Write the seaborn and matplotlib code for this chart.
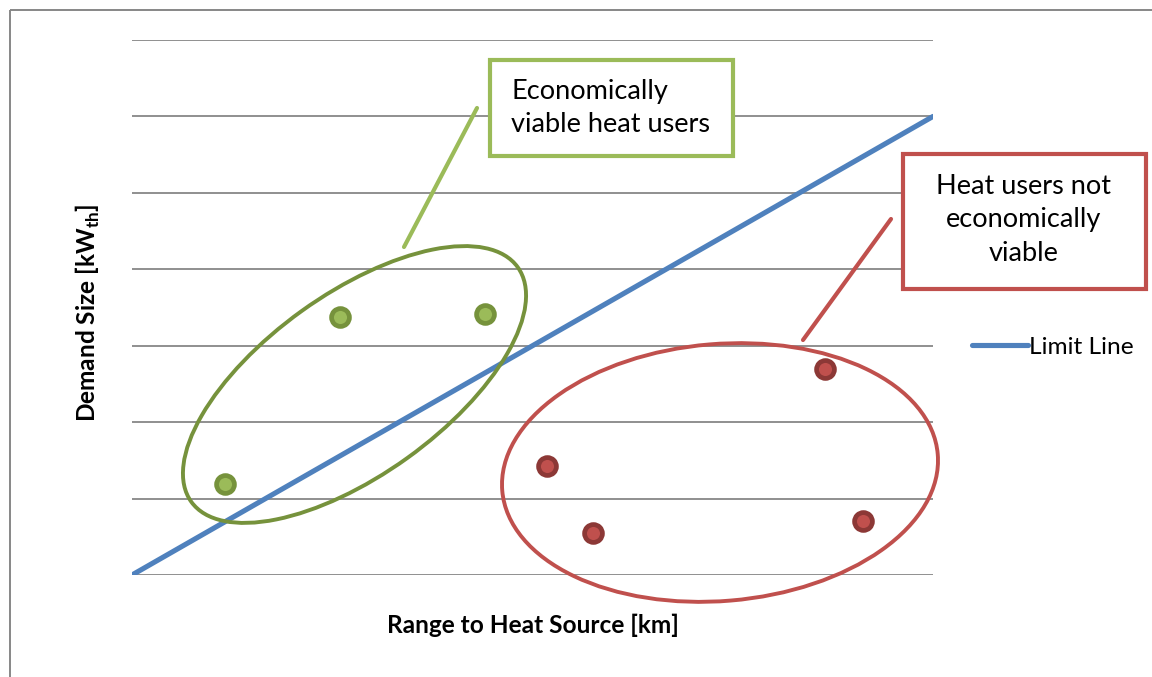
import numpy as np
import pandas as pd
import seaborn as sns
import matplotlib.pyplot as plt
import matplotlib.transforms as mtransforms
from matplotlib.patches import Ellipse, Rectangle
from matplotlib.lines import Line2D

# --- dane ---
viable_x = [1.16, 2.60, 4.41]
viable_y = [1.19, 3.38, 3.41]
not_viable_x = [5.18, 5.75, 8.65, 9.13]
not_viable_y = [1.43, 0.55, 2.70, 0.71]
limit_x = [0, 10]
limit_y = [0, 6]
grid_levels = [0, 1, 2, 3, 4, 5, 6, 7]

GREEN_DARK = '#76923C'
GREEN = '#9BBB59'
RED_DARK = '#8C3836'
RED = '#C0504D'
BLUE = '#4F81BD'
GRID = '#878787'

sns.set_theme(style='white')
plt.rcParams['font.family'] = ['Lato', 'DejaVu Sans']
plt.rcParams['text.color'] = 'black'
plt.rcParams['axes.labelcolor'] = 'black'
plt.rcParams['mathtext.fontset'] = 'custom'
plt.rcParams['mathtext.bf'] = 'Lato:bold'
plt.rcParams['mathtext.rm'] = 'Lato'

W, H = 1152, 677
fig = plt.figure(figsize=(W / 100, H / 100), dpi=100)
ax = fig.add_axes([132 / W, 102 / H, 801 / W, 535 / H])

# wspolrzedne w pikselach (os y w dol) dla adnotacji
px = mtransforms.Affine2D().scale(1, -1).translate(0, H) + \
    mtransforms.Affine2D().scale(1 / W, 1 / H) + fig.transFigure

# ramka wykresu
fig.patches.append(Rectangle((10, 10), 1200, 700, transform=px, fill=False,
                             edgecolor=GRID, lw=1.4))

for g in grid_levels:
    ax.axhline(g, color=GRID, lw=1.3, zorder=0)

sns.lineplot(x=limit_x, y=limit_y, ax=ax, color=BLUE, lw=3.7,
             label='Limit Line', zorder=2)

sns.scatterplot(x=viable_x, y=viable_y, ax=ax, color=GREEN, edgecolor=GREEN_DARK,
                s=165, linewidth=3.4, zorder=4, legend=False)
sns.scatterplot(x=not_viable_x, y=not_viable_y, ax=ax, color=RED, edgecolor=RED_DARK,
                s=165, linewidth=3.4, zorder=4, legend=False)

ax.set_xlim(0, 10)
ax.set_ylim(0, 7)
ax.set_xticks([])
ax.set_yticks([])
for sp in ax.spines.values():
    sp.set_visible(False)
ax.patch.set_alpha(0)

ax.set_xlabel('Range to Heat Source [km]', fontsize=17.6, fontweight='bold')
ax.set_ylabel(r'Demand Size [kW$_{\mathbf{th}}$]', fontsize=17.6, fontweight='bold')
ax.xaxis.set_label_coords(0.5, (575 - 614) / 535)
ax.yaxis.set_label_coords((102 - 132) / 801, 0.49)

# elipsy
fig.patches.append(Ellipse((354.5, 384.5), 402, 181, angle=-35.7, transform=px,
                           fill=False, edgecolor=GREEN_DARK, lw=2.8, zorder=3))
fig.patches.append(Ellipse((720, 472.5), 437, 257, angle=-4.8, transform=px,
                           fill=False, edgecolor=RED, lw=2.8, zorder=3))

# linie odniesienia
fig.lines.append(Line2D([477, 404], [108, 247], transform=px, color=GREEN, lw=3))
fig.lines.append(Line2D([891, 803], [219, 340], transform=px, color=RED, lw=3))

# ramki z opisem
fig.patches.append(Rectangle((490, 60), 243, 96, transform=px, facecolor='white',
                             edgecolor=GREEN, lw=3, zorder=5))
fig.text(511, 108, 'Economically\nviable heat users', transform=px, fontsize=19.5,
         ha='left', va='center', linespacing=1.45, zorder=6)
fig.patches.append(Rectangle((903, 154), 243, 135, transform=px, facecolor='white',
                             edgecolor=RED, lw=3, zorder=5))
fig.text(1024, 220, 'Heat users not\neconomically\nviable', transform=px, fontsize=19.5,
         ha='center', va='center', linespacing=1.42, zorder=6)

leg = ax.legend(loc='center left', bbox_to_anchor=(972 / W, (H - 347) / H),
                bbox_transform=fig.transFigure, frameon=False, fontsize=17.6,
                handlelength=2.3, handletextpad=0.05, borderaxespad=0, borderpad=0)

fig.savefig('out.png', dpi=100)
